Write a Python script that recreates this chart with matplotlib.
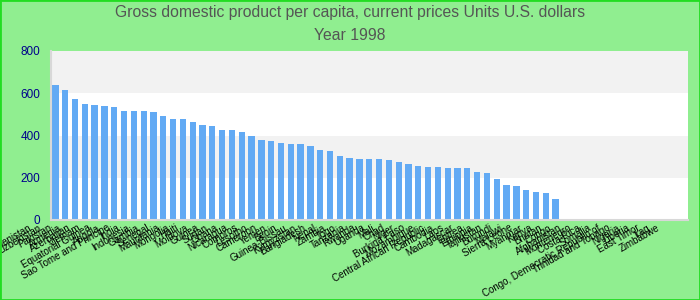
import matplotlib.pyplot as plt
import matplotlib.transforms as mtransforms
from matplotlib.patches import Rectangle

plt.rcParams['font.family'] = ['Liberation Sans', 'DejaVu Sans']

TITLE = "Gross domestic product per capita, current prices Units U.S. dollars"
SUBTITLE = "Year 1998"

countries = [
    "Turkmenistan", "Uzbekistan", "Pakistan", "Armenia", "Azerbaijan",
    "Vietnam", "Equatorial Guinea", "Angola", "Sao Tome and Principe", "India",
    "Indonesia", "Gambia", "Senegal", "Mauritania", "Mongolia",
    "Haiti", "Moldova", "Guinea", "Sudan", "Ghana",
    "Nicaragua", "Comoros", "Lesotho", "Cameroon", "Yemen",
    "Benin", "Guinea-Bissau", "Kyrgyzstan", "Bangladesh", "Nepal",
    "Zambia", "Togo", "Tanzania", "Rwanda", "Uganda",
    "Mali", "Chad", "Niger", "Burkina Faso", "Mozambique",
    "Central African Republic", "Cambodia", "Laos", "Madagascar", "Eritrea",
    "Ethiopia", "Tajikistan", "Burundi", "Malawi", "Sierra Leone",
    "Myanmar", "Kenya", "Bhutan", "Congo", "Afghanistan",
    "Montenegro", "Costa Rica", "Somalia", "Congo, Democratic Republic of", "Trinidad and Tobago",
    "Nigeria", "Liberia", "East Timor", "Iraq", "Zimbabwe",
]

# None = no data for that year
gdp_per_capita = [
    639, 615, 573, 549, 544, 540, 535, 516, 516, 516,
    511, 492, 478, 478, 464, 450, 445, 426, 426, 417,
    398, 379, 374, 364, 360, 360, 350, 331, 327, 303,
    293, 289, 289, 289, 284, 275, 265, 256, 251, 251,
    246, 246, 246, 227, 222, 194, 166, 161, 142, 133,
    128, 99,
] + [None] * 13

y_ticks = [0, 200, 400, 600, 800]

BG = '#90ee90'
BAR = '#62aaf4'

fig = plt.figure(figsize=(7, 3), dpi=100, facecolor=BG)
fig.patches.append(Rectangle((0, 0), 1, 1, transform=fig.transFigure,
                             fill=False, edgecolor='#22dd22', linewidth=2))

ax = fig.add_axes([50.5 / 700, 80 / 300, 637.5 / 700, 169 / 300])
ax.set_facecolor('white')

# alternating bands
for i in range(len(y_ticks) - 1):
    if i % 2 == 1:
        ax.axhspan(y_ticks[i], y_ticks[i + 1], color='#f2f2f2', zorder=0, lw=0)

xs = [i for i, v in enumerate(gdp_per_capita) if v is not None]
vals = [v for v in gdp_per_capita if v is not None]
ax.bar(xs, vals, width=0.64, color=BAR, zorder=2)

ax.set_xlim(-0.5, len(countries) - 0.5)
ax.set_ylim(0, 800)
ax.set_yticks(y_ticks)
ax.tick_params(axis='y', length=0, pad=7.5, labelsize=8.5, labelcolor='#00008b')
ax.tick_params(axis='x', length=0, pad=2, labelsize=7)

ax.set_xticks(range(len(countries)))
ax.set_xticklabels(countries, rotation=30, ha='right', rotation_mode='anchor')
shift = mtransforms.ScaledTranslation(-27 / 100, 0, fig.dpi_scale_trans)
for lbl in ax.get_xticklabels():
    lbl.set_transform(lbl.get_transform() + shift)

for side in ['top', 'right']:
    ax.spines[side].set_visible(False)
for side in ['left', 'bottom']:
    ax.spines[side].set_color('#d8d8d8')
    ax.spines[side].set_linewidth(1.5)

fig.text(0.5, 1 - 12 / 300, TITLE, ha='center', va='center', fontsize=11.3, color='#555555')
fig.text(0.5, 1 - 36 / 300, SUBTITLE, ha='center', va='center', fontsize=11.3, color='#555555')

fig.savefig('out.png', dpi=100, facecolor=BG)
